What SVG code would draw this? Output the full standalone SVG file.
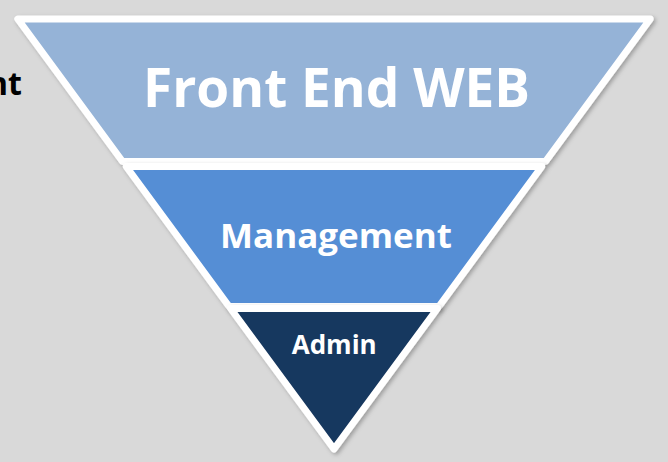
<svg xmlns="http://www.w3.org/2000/svg" width="668" height="462" viewBox="0 0 668 462">
  <style>
    .band { stroke: #ffffff; stroke-width: 7; stroke-linejoin: round; }
    .label { font-family: "Open Sans", "Liberation Sans", sans-serif; font-weight: 700; fill: #ffffff; text-anchor: middle; }
    .side { font-family: "Open Sans", "Liberation Sans", sans-serif; font-weight: 700; fill: #000000; text-anchor: end; }
  </style>
  <defs>
    <filter id="shadow" x="-10%" y="-10%" width="120%" height="120%">
      <feDropShadow dx="2" dy="2" stdDeviation="2" flood-color="#000000" flood-opacity="0.28"/>
    </filter>
  </defs>

  <rect x="0" y="0" width="668" height="462" fill="#d9d9d9"/>

  <!-- caption running off the left edge -->
  <text class="side" x="22" y="95" font-size="32">nt</text>

  <!-- top tier -->
  <g id="front-end-web">
    <polygon class="band" filter="url(#shadow)" fill="#95b3d7" points="17.8,19 650.2,19 545.5,161.5 122.5,161.5"/>
    <text class="label" x="336.5" y="106.5" font-size="54" textLength="387" lengthAdjust="spacingAndGlyphs">Front End WEB</text>
  </g>

  <!-- middle tier -->
  <g id="management">
    <polygon class="band" filter="url(#shadow)" fill="#558ed5" points="126.2,166.5 541.8,166.5 438.9,306.5 229.1,306.5"/>
    <text class="label" x="336" y="248.3" font-size="33.6" textLength="232" lengthAdjust="spacingAndGlyphs">Management</text>
  </g>

  <!-- bottom tier -->
  <g id="admin">
    <polygon class="band" filter="url(#shadow)" fill="#17375e" points="230.6,308.5 437.4,308.5 334,449"/>
    <text class="label" x="334.2" y="354" font-size="26.6" textLength="85" lengthAdjust="spacingAndGlyphs">Admin</text>
  </g>

  <g id="connectors"/>
</svg>
